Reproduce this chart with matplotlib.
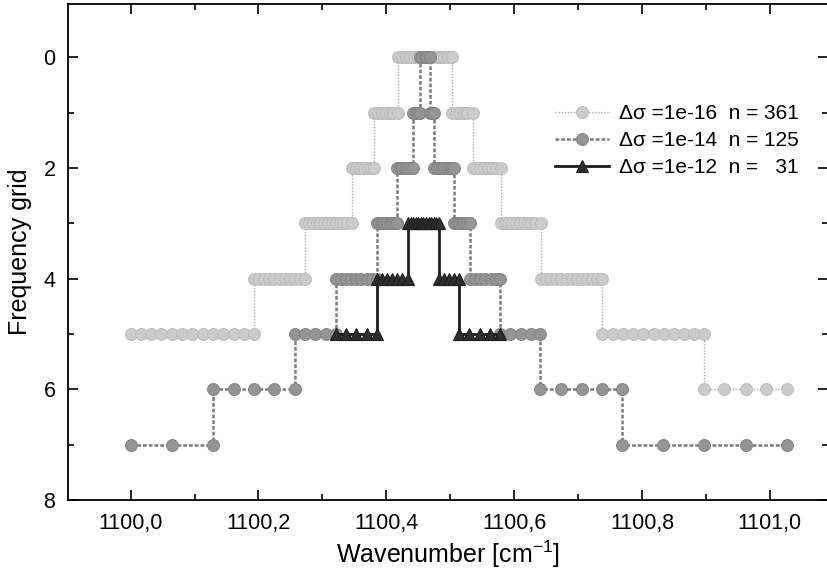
import numpy as np
import matplotlib
matplotlib.use('Agg')
import matplotlib.pyplot as plt
from matplotlib.ticker import MultipleLocator

plt.rcParams['font.family'] = ['Liberation Sans', 'DejaVu Sans']
plt.rcParams['mathtext.default'] = 'regular'
plt.rcParams['axes.unicode_minus'] = False

# wavenumber offsets from 1100 cm-1, one list per grid segment, with its grid level
light_levels = [5, 4, 3, 2, 1, 0, 1, 2, 3, 4, 5, 6]
light_x = [
    [0.000, 0.016, 0.032, 0.048, 0.064, 0.080, 0.096, 0.113, 0.129, 0.145, 0.161, 0.177, 0.193],
    [0.193, 0.201, 0.209, 0.217, 0.225, 0.233, 0.241, 0.249, 0.257, 0.265, 0.273],
    [0.273, 0.279, 0.285, 0.291, 0.297, 0.303, 0.309, 0.315, 0.321, 0.327, 0.333, 0.339, 0.347],
    [0.347, 0.353, 0.359, 0.365, 0.371, 0.376, 0.381],
    [0.381, 0.387, 0.393, 0.399, 0.405, 0.411, 0.419],
    [0.419, 0.425, 0.431, 0.437, 0.443, 0.449, 0.455, 0.461, 0.467, 0.473, 0.479, 0.485, 0.491, 0.497, 0.503],
    [0.503, 0.509, 0.515, 0.521, 0.527, 0.535],
    [0.535, 0.541, 0.547, 0.553, 0.559, 0.565, 0.571, 0.579],
    [0.579, 0.585, 0.591, 0.597, 0.603, 0.609, 0.615, 0.621, 0.627, 0.633, 0.642],
    [0.642, 0.650, 0.658, 0.666, 0.674, 0.682, 0.690, 0.698, 0.706, 0.714, 0.722, 0.730, 0.738],
    [0.738, 0.754, 0.770, 0.786, 0.802, 0.818, 0.834, 0.850, 0.866, 0.882, 0.897],
    [0.897, 0.929, 0.962, 0.994, 1.027],
]

mid_levels = [7, 6, 5, 4, 3, 2, 1, 0, 1, 2, 3, 4, 5, 6, 7]
mid_x = [
    [0.000, 0.064, 0.129],
    [0.129, 0.161, 0.193, 0.225, 0.257],
    [0.257, 0.273, 0.289, 0.305, 0.321],
    [0.321, 0.329, 0.337, 0.345, 0.353, 0.361, 0.369, 0.377, 0.385],
    [0.385, 0.389, 0.393, 0.397, 0.401, 0.405, 0.409, 0.413, 0.417],
    [0.417, 0.421, 0.425, 0.429, 0.433, 0.437, 0.442],
    [0.442, 0.446, 0.449, 0.452],
    [0.452, 0.456, 0.460, 0.464, 0.469],
    [0.469, 0.472, 0.475],
    [0.475, 0.479, 0.483, 0.487, 0.491, 0.495, 0.499, 0.503, 0.506],
    [0.506, 0.510, 0.514, 0.518, 0.522, 0.526, 0.531],
    [0.531, 0.539, 0.547, 0.555, 0.563, 0.571, 0.578],
    [0.578, 0.594, 0.610, 0.626, 0.641],
    [0.641, 0.673, 0.706, 0.737, 0.768],
    [0.768, 0.833, 0.897, 0.962, 1.027],
]

dark_levels = [5, 4, 3, 4, 5]
dark_x = [
    [0.321, 0.337, 0.353, 0.369, 0.385],
    [0.385, 0.393, 0.401, 0.409, 0.417, 0.425, 0.434],
    [0.434, 0.438, 0.442, 0.446, 0.450, 0.454, 0.458, 0.462, 0.466, 0.470, 0.474, 0.478, 0.482],
    [0.482, 0.490, 0.498, 0.506, 0.514],
    [0.514, 0.530, 0.546, 0.562, 0.578],
]

labels = ['Δσ =1e-16  n = 361', 'Δσ =1e-14  n = 125', 'Δσ =1e-12  n =   31']
xticks = [1100.0, 1100.2, 1100.4, 1100.6, 1100.8, 1101.0]
xtick_labels = ['1100,0', '1100,2', '1100,4', '1100,6', '1100,8', '1101,0']
yticks = [0, 2, 4, 6, 8]


def build(levels, xs):
    x = np.concatenate([1100.0 + np.array(seg) for seg in xs])
    y = np.concatenate([np.full(len(seg), lev) for lev, seg in zip(levels, xs)])
    return x, y


fig = plt.figure(figsize=(8.28, 5.72), dpi=100)
ax = fig.add_axes([68 / 828, 1 - 500 / 572, 760 / 828, 496 / 572])

x, y = build(light_levels, light_x)
ax.plot(x, y, linestyle=(0, (1, 1.2)), lw=1.0, color='#a8a8a8',
        marker='o', ms=8.5, mfc='#cbcbcb', mec='#bcbcbc', mew=0.8, label=labels[0])

x, y = build(mid_levels, mid_x)
ax.plot(x, y, linestyle=(0, (1.5, 0.8)), lw=1.8, color='#7a7a7a',
        marker='o', ms=8.5, mfc='#959595', mec='#858585', mew=0.8, label=labels[1])

x, y = build(dark_levels, dark_x)
ax.plot(x, y, linestyle='-', lw=2.0, color='#1e1e1e',
        marker='^', ms=8.5, mfc='#2e2e2e', mec='#1e1e1e', mew=0.8, label=labels[2])

ax.set_xlim(1099.902, 1101.091)
ax.set_ylim(8, -0.96)
ax.set_xticks(xticks)
ax.set_xticklabels(xtick_labels)
ax.set_yticks(yticks)
ax.xaxis.set_minor_locator(MultipleLocator(0.1))
ax.yaxis.set_minor_locator(MultipleLocator(1))
ax.tick_params(which='both', direction='in', top=True, right=True, labelsize=15.5, width=1.2)
ax.tick_params(which='major', length=7, pad=9)
ax.tick_params(which='minor', length=4)
for s in ax.spines.values():
    s.set_linewidth(1.3)

ax.set_xlabel('Wavenumber [cm$^{-1}$]', fontsize=18, labelpad=4)
ax.set_ylabel('Frequency grid', fontsize=18, labelpad=8)

ax.legend(loc='upper left', bbox_to_anchor=(555 / 828, 1 - 104 / 572),
          bbox_transform=fig.transFigure, frameon=False, fontsize=15,
          numpoints=1, handlelength=2.6, handletextpad=0.45, labelspacing=0.38,
          borderpad=0, borderaxespad=0)

fig.savefig('out.png', dpi=100)
